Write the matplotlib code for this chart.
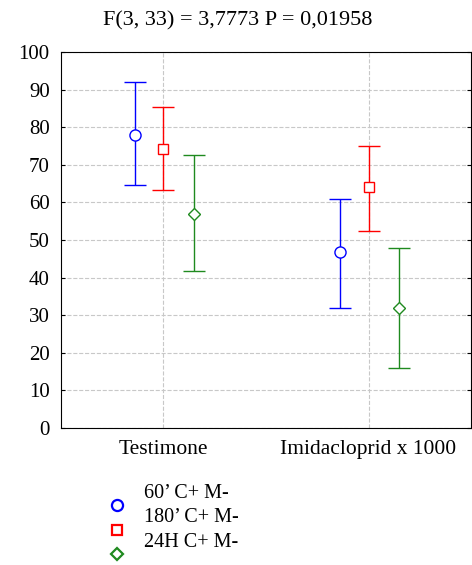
import numpy as np
import matplotlib.pyplot as plt
from matplotlib.lines import Line2D

plt.rcParams['font.family'] = ['Liberation Serif', 'DejaVu Serif']

categorie = ['Testimone', 'Imidacloprid x 1000']
serie = ["60\u2019 C+ M-", "180\u2019 C+ M-", "24H C+ M-"]
medie = [[78.0, 46.8], [74.3, 64.0], [57.0, 32.0]]
sup = [[92.0, 60.8], [85.3, 75.0], [72.5, 48.0]]
inf = [[64.5, 32.0], [63.3, 52.3], [41.8, 16.0]]

colori = ['#0000ff', '#ff0000', '#1f8a1f']
marcatori = ['o', 's', 'D']
spost = [-0.14, 0.0, 0.15]
msize = [8, 7.5, 6.5]

fig = plt.figure(figsize=(4.72, 5.65), dpi=100)
ax = fig.add_axes([0.129, 0.2425, 0.869, 0.6655])

x = np.arange(1, len(categorie) + 1)
for i in range(len(serie)):
    m = np.array(medie[i])
    err = [m - np.array(inf[i]), np.array(sup[i]) - m]
    ax.errorbar(x + spost[i], m, yerr=err, fmt=marcatori[i], color=colori[i],
                mfc='white', mec=colori[i], ms=msize[i], capsize=8,
                elinewidth=1, capthick=1, zorder=3)

ax.set_xlim(0.5, 2.5)
ax.set_ylim(0, 100)
ax.set_xticks(x)
ax.set_xticklabels(categorie, fontsize=15.5)
ax.set_yticks(np.arange(0, 101, 10))
ax.tick_params(axis='y', labelsize=15, direction='in', right=True, length=3, pad=8)
ax.tick_params(axis='x', length=0, pad=9)
ax.grid(True, linestyle='--', color='#c8c8c8', linewidth=0.8)
ax.set_axisbelow(True)
fig.text(0.503, 0.963, 'F(3, 33) = 3,7773 P = 0,01958', fontsize=16,
         ha='center', va='center')

# legenda
for i in range(len(serie)):
    yt = 0.1274 - i * 0.0434
    fig.text(0.305, yt, serie[i], fontsize=14.5, va='center')
    fig.add_artist(Line2D([0.248], [yt - 0.022], transform=fig.transFigure,
                          marker=marcatori[i], color=colori[i], mfc='white',
                          ms=msize[i], mew=1.6, linestyle='none'))

plt.savefig('out.png', dpi=100)
